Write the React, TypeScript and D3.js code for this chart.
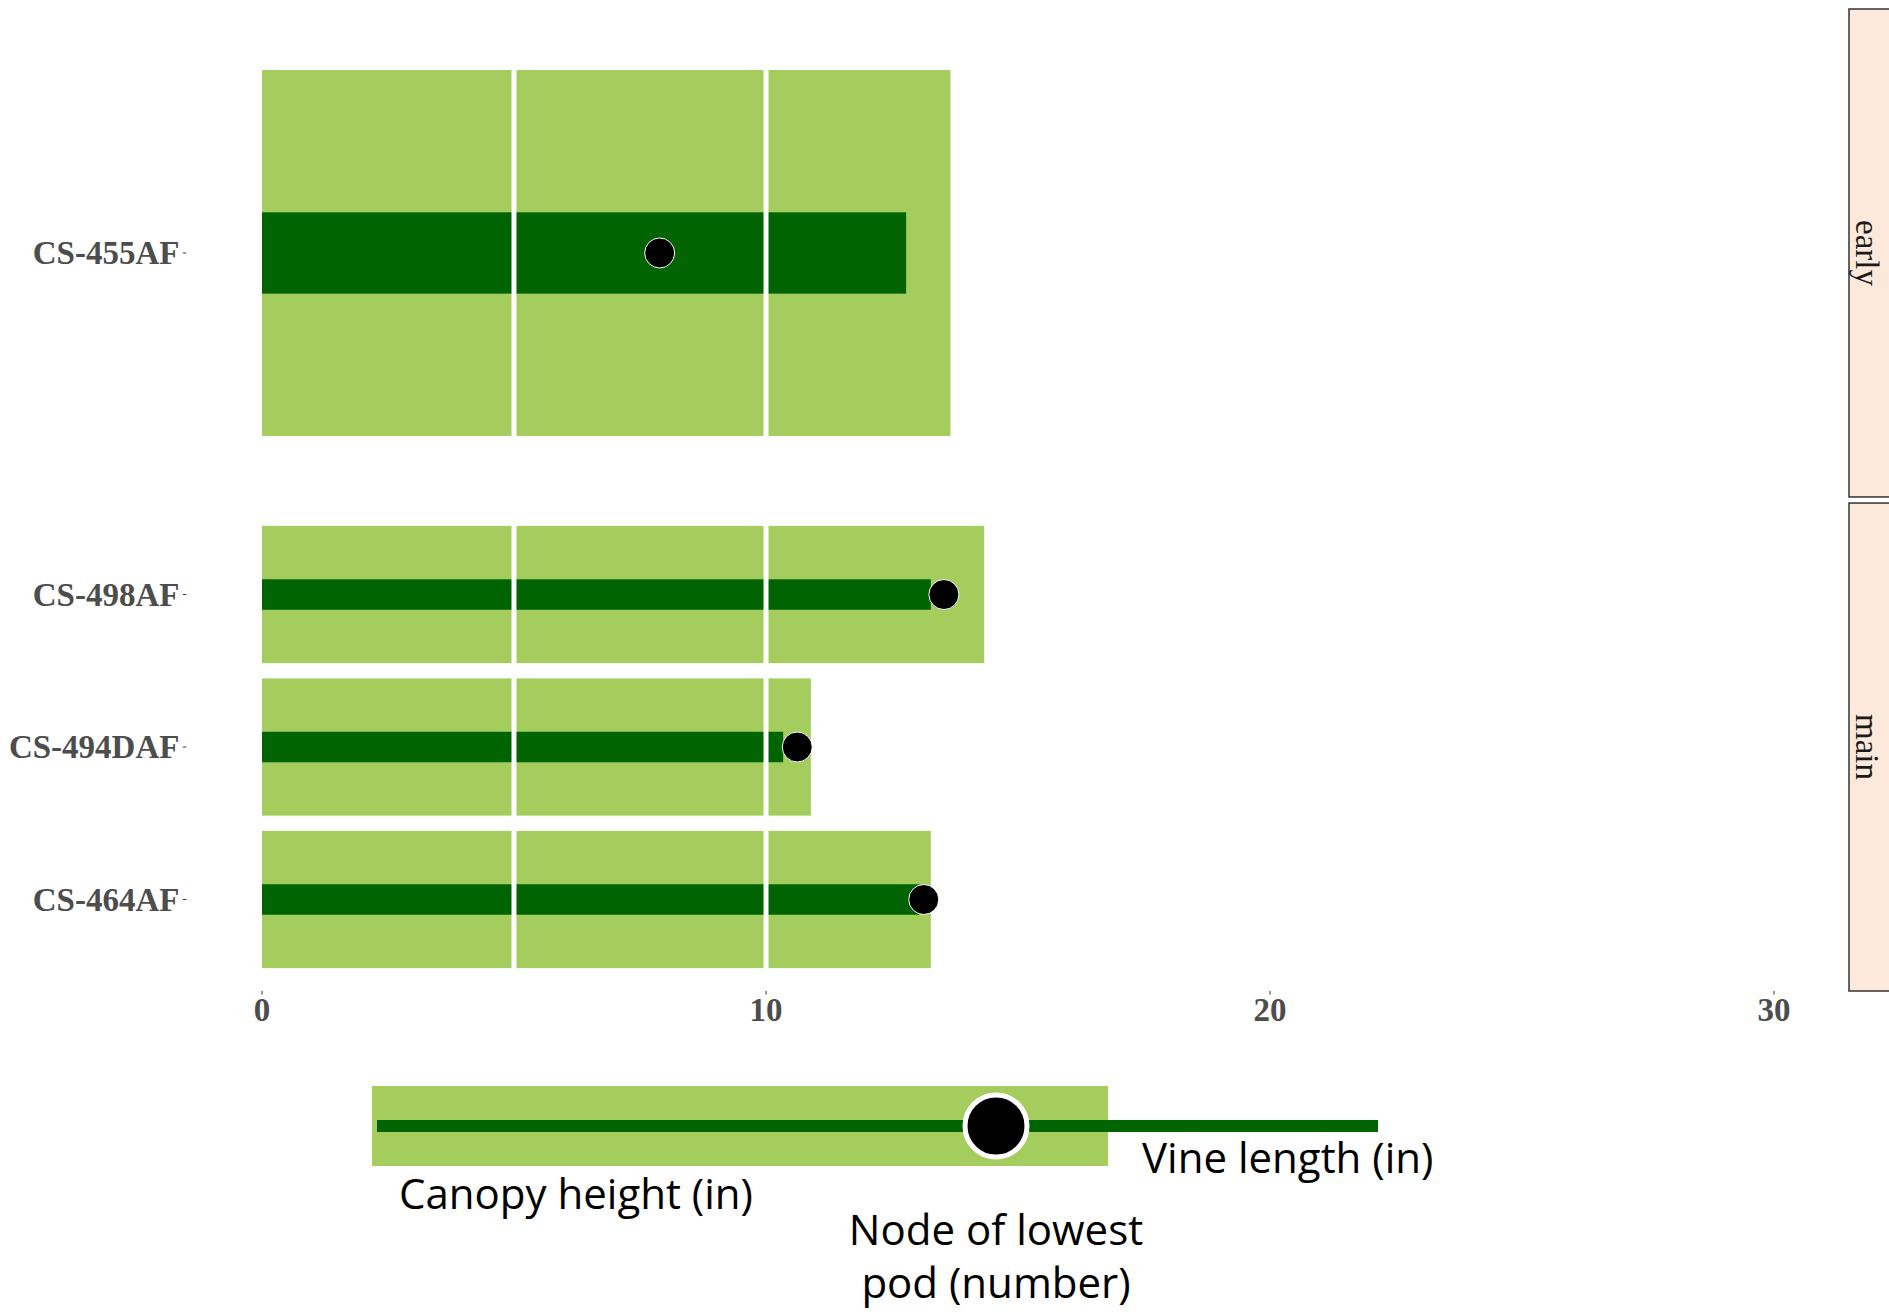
import React, { useEffect, useRef } from 'react';
import * as d3 from 'd3';

// data
const MATURITY_GROUPS = ['early', 'main'];
const VARIETIES = ['CS-455AF', 'CS-498AF', 'CS-494DAF', 'CS-464AF'];
const VARIETY_GROUP = ['early', 'main', 'main', 'main'];
const CANOPY_HEIGHT = [13.66, 14.33, 10.89, 13.27];
const VINE_LENGTH = [12.78, 13.27, 10.34, 13.05];
const LOWEST_POD_NODE = [7.89, 13.53, 10.62, 13.13];
const X_TICKS = [0, 10, 20, 30];

const LEGEND_LABELS = {
    canopy: 'Canopy height (in)',
    vine: 'Vine length (in)',
    node: ['Node of lowest', 'pod (number)'],
};

export default function App() {
    const svgRef = useRef<SVGSVGElement>(null);

    useEffect(() => {
        if (!svgRef.current) return;
        const width = 1889;
        const height = 1312;
        const svg = d3.select(svgRef.current);
        svg.selectAll('*').remove();
        svg.attr('viewBox', `0 0 ${width} ${height}`);

        const light = '#a4cd5e';
        const dark = '#006400';
        const serif = '"Liberation Serif", "Times New Roman", serif';
        const sans = '"Open Sans", "Noto Sans", sans-serif';

        const x = d3.scaleLinear().domain([0, 30]).range([262, 1774]);
        const panelLeft = x(-1.5);

        // facet panels (equal heights, free y)
        const panels = d3.scaleBand<string>()
            .domain(MATURITY_GROUPS)
            .range([9, 991])
            .paddingInner(6 / 488);

        const rows = VARIETIES.map((v, i) => ({
            name: v,
            group: VARIETY_GROUP[i],
            canopy: CANOPY_HEIGHT[i],
            vine: VINE_LENGTH[i],
            node: LOWEST_POD_NODE[i],
        }));

        MATURITY_GROUPS.forEach(group => {
            const top = panels(group)!;
            const bottom = top + panels.bandwidth();
            const data = rows.filter(r => r.group === group);
            const y = d3.scalePoint<string>()
                .domain(data.map(d => d.name))
                .range([top, bottom])
                .padding(0.6);
            const step = y.step();
            const g = svg.append('g');

            // canopy height (wide light bar)
            g.selectAll('.canopy')
                .data(data)
                .join('rect')
                .attr('x', x(0))
                .attr('y', d => y(d.name)! - step * 0.45)
                .attr('width', d => x(d.canopy) - x(0))
                .attr('height', step * 0.9)
                .attr('fill', light);

            // vine length (narrow dark bar)
            g.selectAll('.vine')
                .data(data)
                .join('rect')
                .attr('x', x(0))
                .attr('y', d => y(d.name)! - step * 0.1)
                .attr('width', d => x(d.vine) - x(0))
                .attr('height', step * 0.2)
                .attr('fill', dark);

            // white grid lines over the bars
            g.selectAll('.grid')
                .data(x.ticks(6).filter(t => t > 0 && t < 30))
                .join('line')
                .attr('x1', d => x(d))
                .attr('x2', d => x(d))
                .attr('y1', top)
                .attr('y2', bottom)
                .attr('stroke', '#fff')
                .attr('stroke-width', 5);

            // node of lowest pod
            g.selectAll('.node')
                .data(data)
                .join('circle')
                .attr('cx', d => x(d.node))
                .attr('cy', d => y(d.name)!)
                .attr('r', 15)
                .attr('fill', '#000')
                .attr('stroke', '#fff')
                .attr('stroke-width', 1);

            // y axis ticks and labels
            data.forEach(d => {
                g.append('line')
                    .attr('x1', panelLeft - 3.5)
                    .attr('x2', panelLeft)
                    .attr('y1', y(d.name)!)
                    .attr('y2', y(d.name)!)
                    .attr('stroke', '#333')
                    .attr('stroke-width', 1);
                g.append('text')
                    .attr('x', panelLeft - 7)
                    .attr('y', y(d.name)! + 11)
                    .attr('text-anchor', 'end')
                    .style('font-family', serif)
                    .style('font-weight', 'bold')
                    .style('font-size', '33px')
                    .attr('fill', '#4d4d4d')
                    .text(d.name);
            });

            // facet strip
            g.append('rect')
                .attr('x', 1849)
                .attr('y', top)
                .attr('width', 44)
                .attr('height', bottom - top)
                .attr('fill', '#fde9db')
                .attr('stroke', '#333')
                .attr('stroke-width', 1.5);
            g.append('text')
                .attr('transform', `translate(1856,${(top + bottom) / 2}) rotate(90)`)
                .attr('text-anchor', 'middle')
                .style('font-family', serif)
                .style('font-size', '33px')
                .attr('fill', '#1a1a1a')
                .text(group);
        });

        // x axis
        const xAxis = svg.append('g');
        X_TICKS.forEach(t => {
            xAxis.append('line')
                .attr('x1', x(t))
                .attr('x2', x(t))
                .attr('y1', 991)
                .attr('y2', 994.5)
                .attr('stroke', '#333')
                .attr('stroke-width', 1);
            xAxis.append('text')
                .attr('x', x(t))
                .attr('y', 1021)
                .attr('text-anchor', 'middle')
                .style('font-family', serif)
                .style('font-weight', 'bold')
                .style('font-size', '33px')
                .attr('fill', '#4d4d4d')
                .text(t);
        });

        // key
        const key = svg.append('g');
        key.append('rect')
            .attr('x', 372)
            .attr('y', 1086)
            .attr('width', 736)
            .attr('height', 80)
            .attr('fill', light);
        key.append('line')
            .attr('x1', 377)
            .attr('x2', 1378)
            .attr('y1', 1126)
            .attr('y2', 1126)
            .attr('stroke', dark)
            .attr('stroke-width', 12);
        key.append('circle')
            .attr('cx', 996)
            .attr('cy', 1126)
            .attr('r', 31)
            .attr('fill', '#000')
            .attr('stroke', '#fff')
            .attr('stroke-width', 5);

        const keyText = (tx: number, ty: number, s: string, anchor = 'start') =>
            key.append('text')
                .attr('x', tx)
                .attr('y', ty)
                .attr('text-anchor', anchor)
                .style('font-family', sans)
                .style('font-size', '42px')
                .attr('fill', '#000')
                .text(s);

        keyText(1142, 1173, LEGEND_LABELS.vine);
        keyText(399, 1209, LEGEND_LABELS.canopy);
        keyText(996, 1245, LEGEND_LABELS.node[0], 'middle');
        keyText(996, 1298, LEGEND_LABELS.node[1], 'middle');
    }, []);

    return (
        <svg
            ref={svgRef}
            width={1889}
            height={1312}
            style={{ position: 'absolute', left: 0, top: 0, display: 'block', background: '#fff' }}
        />
    );
}
